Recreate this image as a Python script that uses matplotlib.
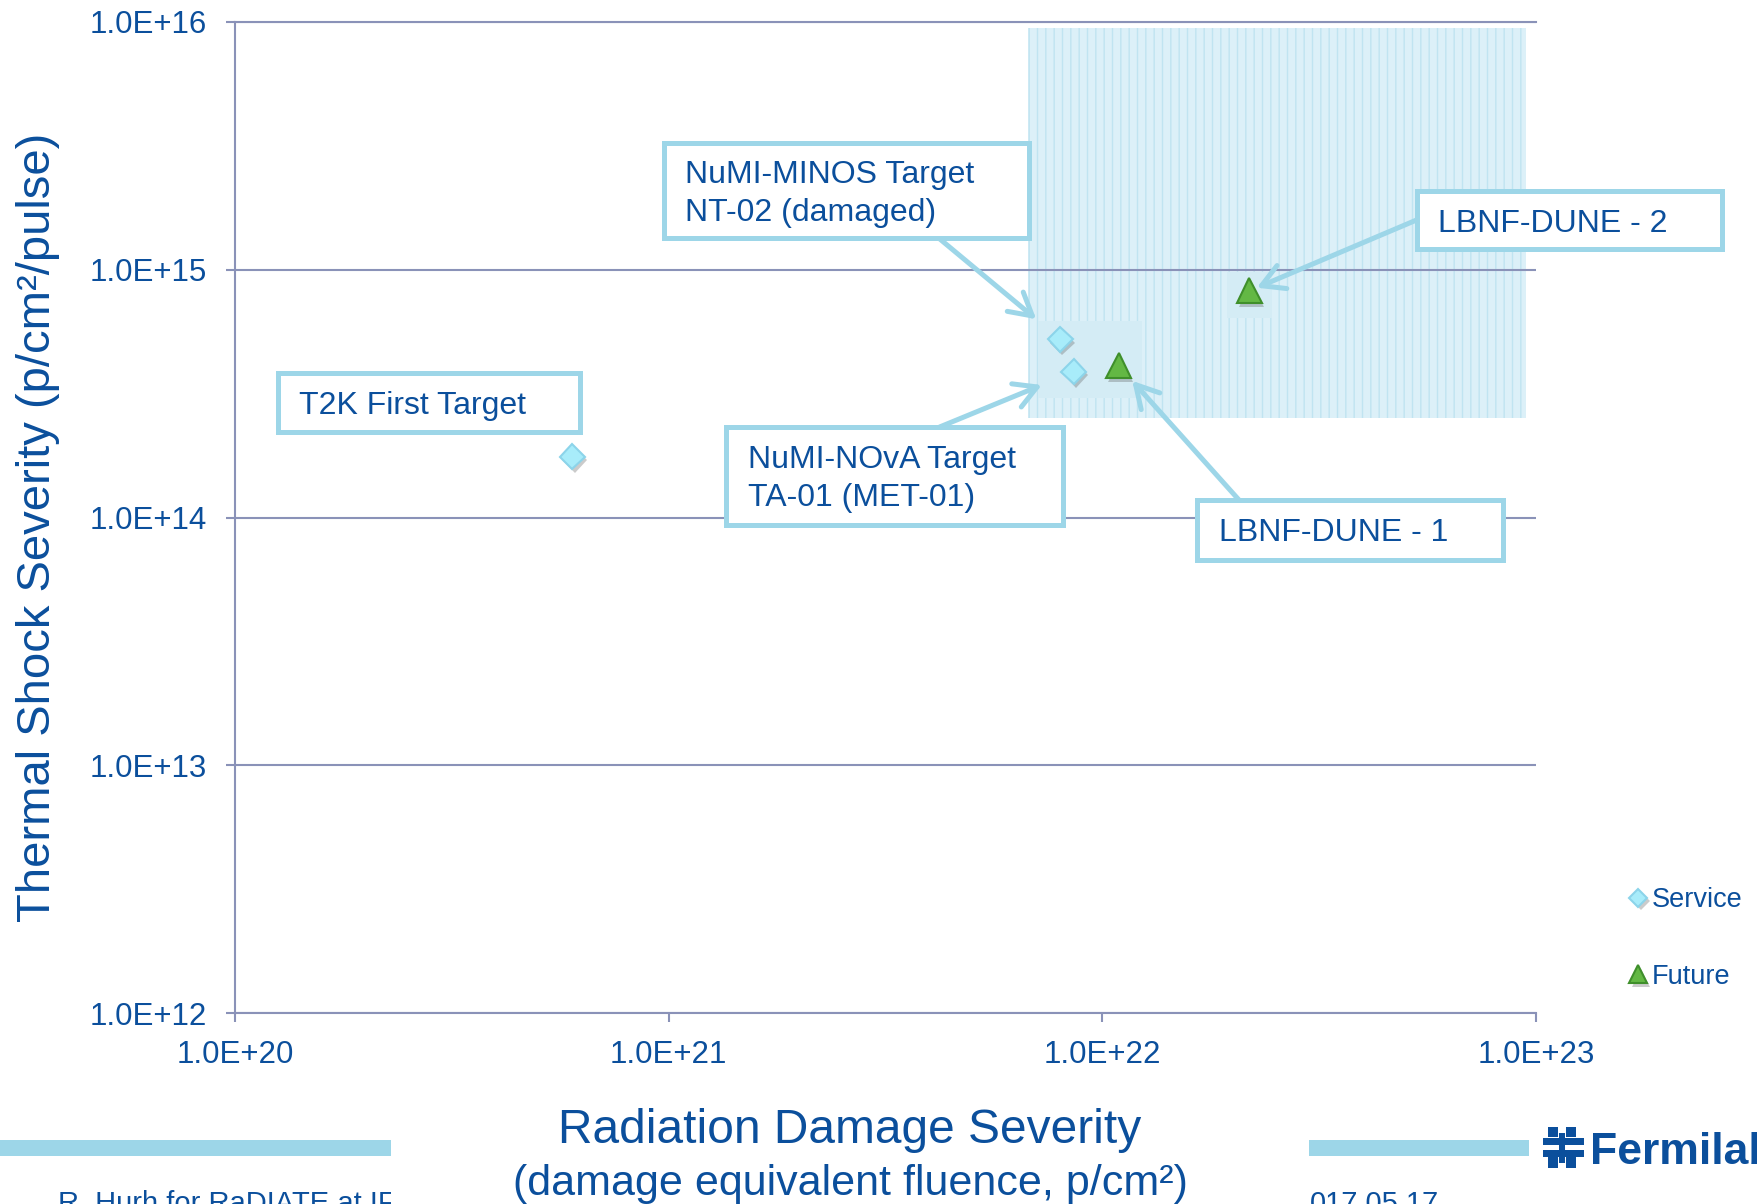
import matplotlib.pyplot as plt
import matplotlib.patheffects as pe
from matplotlib.patches import Rectangle
from matplotlib.transforms import Affine2D, Bbox

plt.rcParams['font.family'] = ['Liberation Sans', 'DejaVu Sans']

W, H = 1758, 1204
NAVY = '#0b4f9c'
SKY = '#9dd6e8'
GRID = '#8a92b8'

# data
service_fluence = [6.0e20, 8.0e21, 8.6e21]      # T2K, NuMI-MINOS, NuMI-NOvA
service_shock = [1.76e14, 5.24e14, 3.87e14]
future_fluence = [1.09e22, 2.18e22]             # LBNF-DUNE 1, 2
future_shock = [4.10e14, 8.20e14]

region_x = [6.75e21, 9.5e22]
region_y = [2.51e14, 9.4e15]

x_ticks = [1e20, 1e21, 1e22, 1e23]
x_labels = ['1.0E+20', '1.0E+21', '1.0E+22', '1.0E+23']
y_ticks = [1e12, 1e13, 1e14, 1e15, 1e16]
y_labels = ['1.0E+12', '1.0E+13', '1.0E+14', '1.0E+15', '1.0E+16']

fig = plt.figure(figsize=(W / 100, H / 100), dpi=100)
# image pixel coords, origin top-left
tr = Affine2D().scale(1 / W, -1 / H).translate(0, 1) + fig.transFigure

ax = fig.add_axes([235 / W, 1 - 1013.3 / H, (1536 - 235) / W, (1013.3 - 21.7) / H])
ax.set_xscale('log')
ax.set_yscale('log')
ax.set_xlim(1e20, 1e23)
ax.set_ylim(1e12, 1e16)
ax.minorticks_off()
ax.set_xticks(x_ticks, x_labels)
ax.set_yticks(y_ticks, y_labels)
ax.tick_params(direction='out', length=6.5, width=1.5, color=GRID,
               labelcolor=NAVY, labelsize=22.5)
ax.tick_params(axis='x', pad=13)
ax.tick_params(axis='y', pad=14)
ax.spines['right'].set_visible(False)
for s in ['left', 'bottom', 'top']:
    ax.spines[s].set_color(GRID)
    ax.spines[s].set_linewidth(1.5)
ax.set_axisbelow(True)
ax.grid(axis='y', color=GRID, lw=1.5)
ax.grid(axis='x', visible=False)

# shaded target zone
ax.add_patch(Rectangle((region_x[0], region_y[0]), region_x[1] - region_x[0],
                       region_y[1] - region_y[0], fc='#dcf0f8', ec='#c0e4f1',
                       hatch='||', lw=0, zorder=0.3))
for x0, y0, x1, y1 in [(1038, 321, 1142, 398), (1227, 272, 1272, 318)]:
    ax.add_patch(Rectangle((x0, y0), x1 - x0, y1 - y0, transform=tr,
                           fc='#d4ecf5', lw=0, zorder=0.4))

shadow = [pe.SimplePatchShadow(offset=(1.5, -2.5), shadow_rgbFace='#555555', alpha=0.3), pe.Normal()]
svc, = ax.plot(service_fluence, service_shock, 'D', ms=12.7, mfc='#a8ecfa',
               mec='#8cd4ea', mew=1.5, ls='none', zorder=5, path_effects=shadow)
fut, = ax.plot(future_fluence, future_shock, '^', ms=18, mfc='#63b844',
               mec='#3f8f2b', mew=1.5, ls='none', zorder=5, path_effects=shadow)

leg = ax.legend([svc, fut], ['Service', 'Future'], loc='upper left',
                bbox_to_anchor=(1629 / W, 1 - 887 / H), bbox_transform=fig.transFigure,
                frameon=False, fontsize=19.5, markerscale=0.72, handlelength=0.7,
                handletextpad=0.15, labelspacing=1.87, borderpad=0, borderaxespad=0)
for t in leg.get_texts():
    t.set_color(NAVY)

# callout boxes: border rectangle (image px), text x, line baselines
callouts = [
    (['NuMI-MINOS Target', 'NT-02 (damaged)'], (664, 142.5, 1029, 237.5), 685, [183.3, 221.5]),
    (['LBNF-DUNE - 2'], (1417.5, 191, 1722, 248.5), 1438, [231.7]),
    (['T2K First Target'], (278, 373, 580, 432), 299, [414]),
    (['NuMI-NOvA Target', 'TA-01 (MET-01)'], (726.5, 427, 1063, 525), 748, [468, 506]),
    (['LBNF-DUNE - 1'], (1197.5, 500, 1503.5, 559.5), 1219, [541]),
]
for lines, (x0, y0, x1, y1), tx, bases in callouts:
    fig.add_artist(Rectangle((x0, y0), x1 - x0, y1 - y0, transform=tr, fc='white',
                             ec=SKY, lw=3.6, zorder=7))
    for line, b in zip(lines, bases):
        fig.text(tx, b, line, transform=tr, ha='left', va='baseline',
                 fontsize=23, color=NAVY, zorder=8)

# arrows: start on box edge (image px) -> data point, stopped short
arrows = [
    ((939.6, 238.8), (service_fluence[1], service_shock[1]), 22.5),
    ((939.6, 427), (service_fluence[2], service_shock[2]), 25),
    ((1239, 500), (future_fluence[0], future_shock[0]), 14.8),
    ((1417, 219.8), (future_fluence[1], future_shock[1]), 6),
]
for start, pt, shrink in arrows:
    ax.annotate('', xy=pt, xycoords='data', xytext=start, textcoords=tr,
                arrowprops=dict(arrowstyle='->,head_length=0.8,head_width=0.45',
                                mutation_scale=20, lw=3.6, color=SKY,
                                shrinkA=0, shrinkB=shrink), zorder=6)

# axis titles
fig.text(38, 527, 'Thermal Shock Severity (p/cm²/pulse)', transform=tr, rotation=90,
         ha='center', va='center', fontsize=34, color=NAVY)
fig.text(850, 1130.5, 'Radiation Damage Severity', transform=tr, ha='center',
         va='center', fontsize=34.5, color=NAVY)
fig.text(850, 1184, '(damage equivalent fluence, p/cm²)', transform=tr, ha='center',
         va='center', fontsize=31, color=NAVY)

# slide footer
for x0, x1 in [(0, 391), (1309, 1529)]:
    fig.add_artist(Rectangle((x0, 1140), x1 - x0, 16, transform=tr, fc=SKY, lw=0))
ft = fig.text(58, 1212, 'R. Hurh for RaDIATE at IF', transform=tr, ha='left',
              va='baseline', fontsize=21, color=NAVY)
ft.set_clip_box(Bbox.from_extents(0, 0, 391, H))
fig.text(1310, 1212, '017.05.17', transform=tr, ha='left', va='baseline',
         fontsize=21, color=NAVY)
fig.text(1590, 1164, 'Fermilab', transform=tr, ha='left', va='baseline',
         fontsize=32, fontweight='bold', color=NAVY)
for x0, y0, w, h in [(1548, 1127, 10, 10), (1566, 1127, 10, 10), (1543, 1138, 41, 7),
                     (1543, 1150, 41, 7), (1548, 1157, 10, 11), (1566, 1157, 10, 11),
                     (1559, 1133, 6, 30)]:
    fig.add_artist(Rectangle((x0, y0), w, h, transform=tr, fc=NAVY, lw=0))

fig.savefig('out.png', dpi=100)
